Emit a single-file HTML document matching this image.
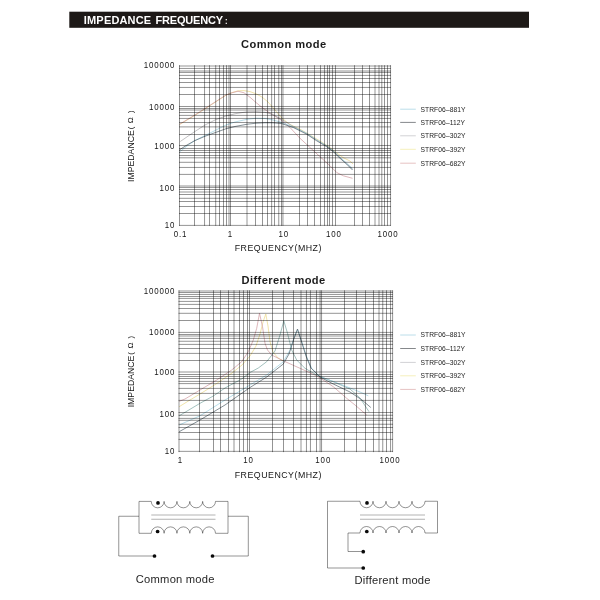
<!DOCTYPE html>
<html lang="en">
<head>
<meta charset="utf-8">
<title>Impedance Frequency</title>
<style>
html,body{margin:0;padding:0;background:#fff;}
body{width:600px;height:600px;overflow:hidden;font-family:"Liberation Sans",sans-serif;}
svg{display:block;font-family:"Liberation Sans",sans-serif;}
.grid path{stroke:#000;stroke-opacity:.42;stroke-width:1;fill:none;}
.hd{font-weight:bold;font-size:11.6px;fill:#fff;}
.tt{font-weight:bold;font-size:11.1px;fill:#1c1c1c;letter-spacing:.42px;}
.tk{font-size:9px;fill:#151515;letter-spacing:.98px;}
.ax{font-size:8.8px;fill:#151515;letter-spacing:.5px;}
.ay{font-size:8.7px;fill:#151515;}
.lg{font-size:6.7px;fill:#222;letter-spacing:.08px;}
.cp{font-size:11.8px;fill:#262626;letter-spacing:.22px;}
.wire{fill:none;stroke:#000;stroke-opacity:.42;stroke-width:1;}
.core{fill:none;stroke:#000;stroke-opacity:.3;stroke-width:1;}
</style>
</head>
<body>
<svg width="600" height="600" viewBox="0 0 600 600"><rect x="69.3" y="11.7" width="459.7" height="16.1" fill="#1d1917"/><text class="hd" transform="translate(83.8 24.15) scale(0.95 1)"><tspan letter-spacing="0.18">IMPEDANCE</tspan> <tspan x="75.5" letter-spacing="-0.2">FREQUENCY</tspan><tspan dx="2.2" dy="-0.2" font-size="8.2">:</tspan></text><text class="tt" x="283.8" y="48" text-anchor="middle">Common mode</text><text class="tt" x="283.6" y="283.7" text-anchor="middle">Different mode</text><path d="M179.5 124.6 L194.5 115.6 L205 108.8 L215.5 102 L226 95.2 L232 92.6 L238 90.8 L244 90.6 L250 91.6 L256 93.8 L262 97 L268 102 L275 110 L281.7 118 L290 124.5 L300 129.2 L310 135 L320 141 L330 147.5 L336.7 153 L343 157.5 L350 161 L353 164" fill="none" stroke="#ecd98a" stroke-width="0.8" stroke-opacity="0.9" stroke-linejoin="round"/><path d="M179.5 124.25 L194.5 115.25 L205 108.5 L215.5 101.75 L226 95 L232 92.75 L238 91.25 L244 92.75 L250 97.25 L256 102.5 L260 105.8 L270 113.3 L280 119.2 L290 127.5 L300 138.3 L310 147.5 L320 156.7 L330 165.8 L336.7 172.5 L343.3 175.8 L352.5 178.3" fill="none" stroke="#cf9ba0" stroke-width="0.8" stroke-opacity="0.9" stroke-linejoin="round"/><path d="M180.25 141.5 L194.5 131.75 L205 125 L215.5 119.75 L226 116 L235 113.75 L247 111.8 L256 111.5 L265 112.25 L273 114.5 L281.7 119.5 L293.3 126.5 L306.7 133.5 L316.7 140 L326.7 146 L333.3 151 L340 157.5 L346.7 163.5 L352.5 169" fill="none" stroke="#aaa8ac" stroke-width="0.8" stroke-opacity="0.9" stroke-linejoin="round"/><path d="M179.5 152 L187 146 L194.5 140.75 L205 135.5 L215.5 130.25 L226 125 L235 122 L247 119.3 L256 118.25 L265 118.5 L273 120 L281.7 122.5 L293.3 126.8 L306.7 133.3 L316.7 139.8 L326.7 145.8 L333.3 150.8 L340 157.3 L346.7 163.3 L352.5 168.5" fill="none" stroke="#9ccfe0" stroke-width="0.8" stroke-opacity="0.9" stroke-linejoin="round"/><path d="M179.5 149.75 L187 145 L194.5 140.75 L205 136.25 L215.5 132.5 L226 128.75 L235 126.5 L247 124.25 L256 123.2 L265 122.75 L273 122.8 L281.7 123.6 L293.3 127.5 L306.7 134.2 L316.7 140.8 L326.7 146.7 L333.3 151.7 L340 158.3 L346.7 164.2 L352.5 170" fill="none" stroke="#55656c" stroke-width="0.8" stroke-opacity="0.9" stroke-linejoin="round"/><g class="grid"><path d="M179.5 65.2V225.8"/><path d="M194.5 65.2V225.8"/><path d="M204.55 65.2V225.8"/><path d="M209.5 65.2V225.8"/><path d="M215.7 65.2V225.8" stroke-opacity="0.4"/><path d="M219.5 65.2V225.8"/><path d="M223.5 65.2V225.8"/><path d="M226.5 65.2V225.8"/><path d="M229 65.2V225.8"/><path d="M230.5 65.2V225.8"/><path d="M247 65.2V225.8"/><path d="M255.5 65.2V225.8"/><path d="M262.5 65.2V225.8"/><path d="M267.5 65.2V225.8"/><path d="M271.65 65.2V225.8" stroke-opacity="0.38"/><path d="M274.5 65.2V225.8"/><path d="M278.75 65.2V225.8"/><path d="M281.5 65.2V225.8"/><path d="M282.95 65.2V225.8" stroke-opacity="0.25"/><path d="M299.5 65.2V225.8"/><path d="M307.5 65.2V225.8"/><path d="M314.5 65.2V225.8"/><path d="M320.5 65.2V225.8"/><path d="M324.5 65.2V225.8"/><path d="M327.5 65.2V225.8"/><path d="M329.5 65.2V225.8"/><path d="M332.5 65.2V225.8"/><path d="M335.5 65.2V225.8"/><path d="M354.5 65.2V225.8"/><path d="M362.5 65.2V225.8"/><path d="M369.5 65.2V225.8"/><path d="M375 65.2V225.8"/><path d="M379 65.2V225.8"/><path d="M381.8 65.2V225.8" stroke-opacity="0.34"/><path d="M384.5 65.2V225.8"/><path d="M387.5 65.2V225.8"/><path d="M390.55 65.2V225.8" stroke-opacity="0.29"/><path d="M179 66H391" stroke-opacity="0.67"/><path d="M179 68.45H391"/><path d="M179 71H391"/><path d="M179 72.45H391"/><path d="M179 75.4H391"/><path d="M179 78.5H391"/><path d="M179 82.5H391" stroke-opacity="0.34"/><path d="M179 87.45H391"/><path d="M179 94.5H391"/><path d="M179 106.5H391"/><path d="M179 108.5H391"/><path d="M179 110H391"/><path d="M179 112.5H391"/><path d="M179 115.4H391"/><path d="M179 118.45H391"/><path d="M179 122.5H391"/><path d="M179 126.9H391"/><path d="M179 134.5H391"/><path d="M179 145.5H391"/><path d="M179 148.5H391"/><path d="M179 150.5H391"/><path d="M179 152.5H391"/><path d="M179 155.5H391"/><path d="M179 157.8H391"/><path d="M179 162.3H391"/><path d="M179 167.45H391"/><path d="M179 174.4H391"/><path d="M179 186H391" stroke-opacity="0.34"/><path d="M179 187.45H391"/><path d="M179 189.5H391"/><path d="M179 192H391"/><path d="M179 194.5H391"/><path d="M179 198.3H391"/><path d="M179 201.5H391"/><path d="M179 206.5H391"/><path d="M179 213.5H391"/><path d="M179 225.4H391"/></g><text class="tk" text-anchor="end" transform="translate(175.3 68.1) scale(0.88 1)">100000</text><text class="tk" text-anchor="end" transform="translate(175.3 109.6) scale(0.88 1)">10000</text><text class="tk" text-anchor="end" transform="translate(175.3 148.6) scale(0.88 1)">1000</text><text class="tk" text-anchor="end" transform="translate(175.3 190.5) scale(0.88 1)">100</text><text class="tk" text-anchor="end" transform="translate(175.3 228.1) scale(0.88 1)">10</text><text class="tk" text-anchor="middle" transform="translate(180.45 237.1) scale(0.88 1)">0.1</text><text class="tk" text-anchor="middle" transform="translate(230.45 237.1) scale(0.88 1)">1</text><text class="tk" text-anchor="middle" transform="translate(283.75 237.1) scale(0.88 1)">10</text><text class="tk" text-anchor="middle" transform="translate(333.95 237.1) scale(0.88 1)">100</text><text class="tk" text-anchor="middle" transform="translate(387.95 237.1) scale(0.88 1)">1000</text><text class="ax" x="278.3" y="251.4" text-anchor="middle">FREQUENCY(MHZ)</text><text class="ay" transform="translate(134.1 181.9) rotate(-90)">IMPEDANCE<tspan x="52.6" dy="-1.4" font-size="7.7">(</tspan><tspan x="58.7" dy="0.6" font-size="8">Ω</tspan><tspan x="68.8" dy="-0.6" font-size="7.7">)</tspan></text><path d="M400.2 109.2H415.8" stroke="#bcdeea" stroke-width="1" fill="none"/><text class="lg" x="420.5" y="111.6">STRF06–881Y</text><path d="M400.2 122.4H415.8" stroke="#85888b" stroke-width="1" fill="none"/><text class="lg" x="420.5" y="124.8">STRF06–112Y</text><path d="M400.2 135.8H415.8" stroke="#d2d2d5" stroke-width="1" fill="none"/><text class="lg" x="420.5" y="138.2">STRF06–302Y</text><path d="M400.2 149.3H415.8" stroke="#f5f0bc" stroke-width="1" fill="none"/><text class="lg" x="420.5" y="151.7">STRF06–392Y</text><path d="M400.2 163.2H415.8" stroke="#e6c2c2" stroke-width="1" fill="none"/><text class="lg" x="420.5" y="165.6">STRF06–682Y</text><path d="M179.2 406.7 L190 400 L200 394 L216 384 L232 373 L242 365 L250 356 L256 346 L260 334 L263 322 L265.8 314 L268 326 L270 341.7 L273 352 L278 358 L283.3 361" fill="none" stroke="#ecd98a" stroke-width="0.8" stroke-opacity="0.9" stroke-linejoin="round"/><path d="M179.2 401.3 L185 399 L200 390 L216.7 380 L231.7 370 L241.7 361.7 L248.3 351.7 L253.3 340 L256.7 328.3 L259.5 313.3 L262.5 326.7 L265 343.3 L267.5 350 L271.7 355 L283.3 360.8 L300 368.3 L316.7 375.8 L333.3 386.7 L346.7 398.3 L355 405 L366.7 415" fill="none" stroke="#cf9ba0" stroke-width="0.8" stroke-opacity="0.9" stroke-linejoin="round"/><path d="M179.2 415.8 L200 403.3 L213.3 396 L225 388 L241.7 379 L250 372.5 L258.3 368 L266.7 361.7 L275 351 L280 335 L283.8 320.8 L287.5 333.3 L291.7 350 L296.7 360 L305 368.3 L316.7 375 L333.3 381.7 L350 389 L360 398 L369 411.7" fill="none" stroke="#7fa8a4" stroke-width="0.8" stroke-opacity="0.9" stroke-linejoin="round"/><path d="M179.2 425 L200 415.8 L225 400 L250 385 L266.7 375 L283.3 361.7 L290 350 L294.2 337 L297.5 329.5 L301.7 341.7 L306.7 356.7 L311.7 368.3 L320 376.7 L333.3 381.5 L350 388 L360 392 L368.3 395.8" fill="none" stroke="#9ccfe0" stroke-width="0.8" stroke-opacity="0.9" stroke-linejoin="round"/><path d="M179.2 431.7 L200 420 L225 405 L250 387.5 L266.7 377 L283.3 364 L289 354 L293.5 340 L297.5 329 L301 340 L306 356 L311 368 L320 377 L333.3 384 L350 392 L362 400 L370.8 407.5" fill="none" stroke="#55656c" stroke-width="0.8" stroke-opacity="0.9" stroke-linejoin="round"/><g class="grid"><path d="M179 290.3V452.1" stroke-opacity="0.61"/><path d="M199.5 290.3V452.1"/><path d="M213.5 290.3V452.1"/><path d="M220.5 290.3V452.1"/><path d="M228.5 290.3V452.1"/><path d="M234 290.3V452.1"/><path d="M239.5 290.3V452.1"/><path d="M243.5 290.3V452.1"/><path d="M247.5 290.3V452.1"/><path d="M249.5 290.3V452.1"/><path d="M272.5 290.3V452.1"/><path d="M283.5 290.3V452.1"/><path d="M293.5 290.3V452.1"/><path d="M301 290.3V452.1"/><path d="M306.45 290.3V452.1"/><path d="M310.45 290.3V452.1"/><path d="M316.5 290.3V452.1"/><path d="M320.1 290.3V452.1" stroke-opacity="0.32"/><path d="M321.55 290.3V452.1"/><path d="M344.5 290.3V452.1"/><path d="M356.5 290.3V452.1"/><path d="M365.5 290.3V452.1"/><path d="M373.5 290.3V452.1"/><path d="M379 290.3V452.1"/><path d="M382.75 290.3V452.1" stroke-opacity="0.36"/><path d="M386.5 290.3V452.1"/><path d="M390.55 290.3V452.1"/><path d="M392.6 290.3V452.1" stroke-opacity="0.25"/><path d="M178.5 291H393" stroke-opacity="0.55"/><path d="M178.5 292.5H393" stroke-opacity="0.48"/><path d="M178.5 294.45H393"/><path d="M178.5 296.5H393"/><path d="M178.5 298.4H393"/><path d="M178.5 301.4H393"/><path d="M178.5 304.4H393"/><path d="M178.5 308.5H393" stroke-opacity="0.36"/><path d="M178.5 313.3H393" stroke-opacity="0.36"/><path d="M178.5 320.5H393"/><path d="M178.5 332.4H393"/><path d="M178.5 334.5H393"/><path d="M178.5 336H393"/><path d="M178.5 338.4H393"/><path d="M178.5 341.25H393"/><path d="M178.5 344.4H393"/><path d="M178.5 348.5H393"/><path d="M178.5 353.4H393"/><path d="M178.5 360.5H393"/><path d="M178.5 372H393"/><path d="M178.5 374.5H393"/><path d="M178.5 376.5H393"/><path d="M178.5 378.5H393"/><path d="M178.5 381.4H393"/><path d="M178.5 383.6H393" stroke-opacity="0.34"/><path d="M178.5 388.4H393"/><path d="M178.5 393.4H393"/><path d="M178.5 400.4H393"/><path d="M178.5 412.5H393"/><path d="M178.5 415.25H393"/><path d="M178.5 418.4H393"/><path d="M178.5 420.3H393"/><path d="M178.5 424.25H393"/><path d="M178.5 427.5H393"/><path d="M178.5 432.5H393"/><path d="M178.5 439.4H393"/><path d="M178.5 451.35H393"/></g><text class="tk" text-anchor="end" transform="translate(175.3 293.7) scale(0.88 1)">100000</text><text class="tk" text-anchor="end" transform="translate(175.3 335.3) scale(0.88 1)">10000</text><text class="tk" text-anchor="end" transform="translate(175.3 375.4) scale(0.88 1)">1000</text><text class="tk" text-anchor="end" transform="translate(175.3 416.5) scale(0.88 1)">100</text><text class="tk" text-anchor="end" transform="translate(175.3 454.3) scale(0.88 1)">10</text><text class="tk" text-anchor="middle" transform="translate(180.45 462.7) scale(0.88 1)">1</text><text class="tk" text-anchor="middle" transform="translate(248.45 462.7) scale(0.88 1)">10</text><text class="tk" text-anchor="middle" transform="translate(323.25 462.7) scale(0.88 1)">100</text><text class="tk" text-anchor="middle" transform="translate(389.95 462.7) scale(0.88 1)">1000</text><text class="ax" x="278.3" y="477.8" text-anchor="middle">FREQUENCY(MHZ)</text><text class="ay" transform="translate(134.1 407.3) rotate(-90)">IMPEDANCE<tspan x="52.6" dy="-1.4" font-size="7.7">(</tspan><tspan x="58.7" dy="0.6" font-size="8">Ω</tspan><tspan x="68.8" dy="-0.6" font-size="7.7">)</tspan></text><path d="M400.2 335H415.8" stroke="#bcdeea" stroke-width="1" fill="none"/><text class="lg" x="420.5" y="337.4">STRF06–881Y</text><path d="M400.2 348.5H415.8" stroke="#85888b" stroke-width="1" fill="none"/><text class="lg" x="420.5" y="350.9">STRF06–112Y</text><path d="M400.2 362.4H415.8" stroke="#d2d2d5" stroke-width="1" fill="none"/><text class="lg" x="420.5" y="364.8">STRF06–302Y</text><path d="M400.2 375.8H415.8" stroke="#f5f0bc" stroke-width="1" fill="none"/><text class="lg" x="420.5" y="378.2">STRF06–392Y</text><path d="M400.2 389.4H415.8" stroke="#e6c2c2" stroke-width="1" fill="none"/><text class="lg" x="420.5" y="391.8">STRF06–682Y</text><path class="wire" d="M139 516.25H118.75V556H154.5M151.25 501.4H139V533.3H151.25M151.25 501.4A6.42 6.42 0 0 0 164.1 501.4A6.42 6.42 0 0 0 176.95 501.4A6.42 6.42 0 0 0 189.8 501.4A6.42 6.42 0 0 0 202.65 501.4A6.42 6.42 0 0 0 215.5 501.4M151.25 533.3A6.42 6.42 0 0 1 164.1 533.3A6.42 6.42 0 0 1 176.95 533.3A6.42 6.42 0 0 1 189.8 533.3A6.42 6.42 0 0 1 202.65 533.3A6.42 6.42 0 0 1 215.5 533.3M215.5 501.4H228V533.3H215.5M228 516.25H248.3V556H212.5"/><path class="core" d="M151.25 515H215.5M151.25 519.25H215.5"/><circle cx="158" cy="502.9" r="1.85" fill="#0a0a0a"/><circle cx="157.6" cy="531.5" r="1.85" fill="#0a0a0a"/><circle cx="154.5" cy="556" r="1.85" fill="#0a0a0a"/><circle cx="212.5" cy="556" r="1.85" fill="#0a0a0a"/><path class="wire" d="M360 501.25H327.5V568H363M360 501.25A6.5 6.5 0 0 0 373 501.25A6.5 6.5 0 0 0 386 501.25A6.5 6.5 0 0 0 399 501.25A6.5 6.5 0 0 0 412 501.25A6.5 6.5 0 0 0 425 501.25M360 533A6.5 6.5 0 0 1 373 533A6.5 6.5 0 0 1 386 533A6.5 6.5 0 0 1 399 533A6.5 6.5 0 0 1 412 533A6.5 6.5 0 0 1 425 533M425 501.25H437.5V533H425M360 533H348V551.5H363"/><path class="core" d="M360 515H425M360 519.25H425"/><circle cx="367" cy="502.9" r="1.85" fill="#0a0a0a"/><circle cx="366.8" cy="531.5" r="1.85" fill="#0a0a0a"/><circle cx="363.25" cy="551.7" r="1.85" fill="#0a0a0a"/><circle cx="363.25" cy="568" r="1.85" fill="#0a0a0a"/><text class="cp" transform="translate(175.25 583.4) scale(0.95 1)" text-anchor="middle">Common mode</text><text class="cp" transform="translate(392.65 583.8) scale(0.95 1)" text-anchor="middle">Different mode</text></svg>
</body>
</html>
